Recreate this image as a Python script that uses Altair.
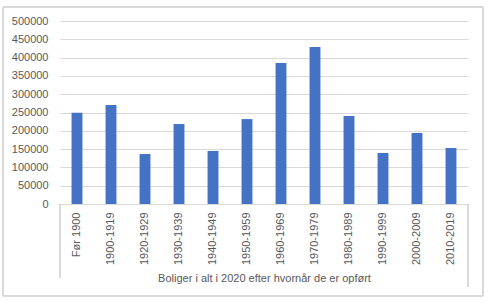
import altair as alt
import pandas as pd

categories = ["Før 1900", "1900-1919", "1920-1929", "1930-1939", "1940-1949", "1950-1959",
              "1960-1969", "1970-1979", "1980-1989", "1990-1999", "2000-2009", "2010-2019"]
values = [249000, 270500, 136500, 218500, 145000, 232000,
          385500, 429000, 240500, 139500, 194000, 153000]
y_ticks = [0, 50000, 100000, 150000, 200000, 250000, 300000, 350000, 400000, 450000, 500000]
x_title = "Boliger i alt i 2020 efter hvornår de er opført"

df = pd.DataFrame({"cat": categories, "val": values})

FONT = "Liberation Sans"
GRAY = "#595959"
LINE = "#d9d9d9"

bars = alt.Chart(df).mark_bar(color="#4472C4").encode(
    x=alt.X("cat:N", sort=categories,
            scale=alt.Scale(paddingInner=0.68, paddingOuter=0.34),
            axis=alt.Axis(title=x_title, labelAngle=270, labelAlign="right", labelBaseline="middle",
                          labelPadding=8, ticks=False, domainColor=LINE, labelColor=GRAY,
                          labelFont=FONT, labelFontSize=11, titleFont=FONT, titleFontSize=11,
                          titleFontWeight="normal", titleColor=GRAY, titlePadding=8)),
    y=alt.Y("val:Q", scale=alt.Scale(domain=[0, 500000]),
            axis=alt.Axis(title=None, values=y_ticks, format="d", ticks=False, domain=False,
                          gridColor=LINE, labelColor=GRAY, labelFont=FONT, labelFontSize=11,
                          labelPadding=12)),
)

border = alt.Chart(df).mark_rect(fill=None, stroke=LINE, strokeWidth=1, clip=False).encode(
    x=alt.value(-57), x2=alt.value(423), y=alt.value(-14), y2=alt.value(275)
)
left_line = alt.Chart(df).mark_rule(color=LINE, clip=False).encode(
    x=alt.value(0), y=alt.value(183), y2=alt.value(257)
)
right_line = alt.Chart(df).mark_rule(color=LINE, clip=False).encode(
    x=alt.value(408), y=alt.value(183), y2=alt.value(266)
)

chart = alt.layer(bars, border, left_line, right_line).properties(
    width=408, height=183,
    autosize=alt.AutoSizeParams(type="none"),
    padding={"left": 60, "top": 21, "right": 29, "bottom": 99},
    background="white",
).configure_view(stroke=None)

chart.save("out.html", embed_options={"renderer": "svg", "actions": False})
